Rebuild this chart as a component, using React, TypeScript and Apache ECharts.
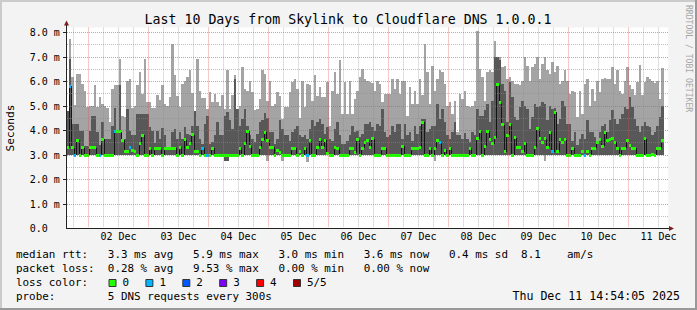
import React, { useEffect, useRef } from 'react';
import * as echarts from 'echarts';

const MONO = "'DejaVu Sans Mono', monospace";

const chartTitle = 'Last 10 Days from Skylink to Cloudflare DNS 1.0.0.1';
const yAxisTitle = 'Seconds';
const sideNote = 'RRDTOOL / TOBI OETIKER';
const stamp = 'Thu Dec 11 14:54:05 2025';
const monthName = 'Dec';

// hours counted from Dec 1 00:00; each value is the hour ending at FIRST_HOUR + index
const FIRST_HOUR = 16;
const SMOKE_FLOOR = 2.98; // ms, lowest ping of most hours
const X_MIN = 14.9;
const X_MAX = 255.9;
const Y_MAX = 8.2;

// top of the light smoke band (max ping, ms)
const smokeMax = [
  4.8, 7.74, 6.2, 5.05, 6.3, 6.3, 5.9, 5.6, 4.95, 5.0,
  5.0, 5.85, 4.95, 5.35, 5.1, 5.0, 4.9, 4.35, 5.7, 5.85,
  5.85, 6.9, 4.6, 4.55, 6.0, 6.1, 4.9, 5.0, 5.85, 6.4,
  5.5, 6.9, 5.15, 5.15, 4.9, 4.9, 5.45, 5.25, 5.84, 5.1,
  5.0, 5.36, 7.55, 6.25, 5.4, 4.95, 5.9, 6.0, 6.2, 6.45,
  5.55, 4.8, 6.93, 5.63, 5.32, 5.32, 4.88, 5.56, 5.15, 5.5,
  5.15, 5.02, 5.43, 4.88, 6.45, 4.88, 5.43, 6.25, 4.88, 5.02,
  6.6, 5.7, 5.63, 6.04, 5.56, 4.82, 4.88, 5.29, 6.45, 6.3,
  5.2, 6.04, 5.02, 5.1, 5.56, 5.42, 4.48, 4.95, 4.95, 5.56,
  5.97, 6.1, 5.7, 4.5, 6.04, 4.95, 5.9, 5.84, 5.22, 6.25,
  5.42, 5.77, 5.36, 5.36, 5.97, 4.2, 5.63, 6.38, 5.5, 6.86,
  4.68, 5.97, 4.68, 6.04, 4.68, 5.29, 5.63, 6.18, 6.52, 6.1,
  6.0, 5.97, 5.94, 5.63, 6.04, 5.9, 5.16, 5.5, 5.5, 5.5,
  6.1, 5.7, 6.1, 5.5, 6.0, 6.0, 4.61, 5.77, 5.09, 5.63,
  5.09, 6.1, 5.43, 7.54, 6.38, 5.09, 6.65, 5.63, 6.1, 6.45,
  6.38, 5.9, 5.02, 5.16, 4.68, 5.22, 3.95, 5.5, 5.29, 5.6,
  5.0, 4.95, 5.02, 5.22, 8.08, 6.52, 6.18, 5.22, 6.38, 6.45,
  6.38, 7.67, 7.0, 7.0, 6.59, 6.65, 6.11, 6.18, 6.04, 5.9,
  5.9, 5.84, 6.04, 7.0, 6.65, 6.04, 6.59, 6.72, 7.0, 6.1,
  6.72, 7.0, 6.45, 6.31, 6.79, 6.38, 6.65, 5.9, 6.0, 6.45,
  6.0, 5.5, 5.63, 5.56, 4.54, 5.63, 4.68, 5.9, 6.1, 5.02,
  5.7, 5.22, 6.0, 5.56, 6.1, 6.14, 6.1, 6.1, 6.59, 5.9,
  6.45, 5.63, 5.5, 6.0, 6.59, 5.84, 5.7, 5.43, 5.97, 6.68,
  5.43, 5.97, 6.18, 6.1, 6.04, 5.94, 6.0, 5.29, 6.55,
];

// top of the dark (inner) smoke band, ms
const smokeInner = [
  4.8, 6.93, 4.27, 4.27, 4.27, 3.96, 3.96, 3.35, 3.35, 3.96,
  4.6, 4.6, 3.95, 3.4, 4.35, 3.66, 3.66, 3.66, 4.2, 4.9,
  3.96, 5.84, 3.66, 3.66, 4.88, 4.0, 3.8, 3.8, 4.68, 4.68,
  4.68, 4.68, 4.68, 4.14, 3.96, 3.5, 3.96, 3.66, 4.1, 3.8,
  3.32, 3.32, 3.93, 4.07, 3.66, 3.93, 3.66, 4.14, 3.87, 3.8,
  4.2, 4.8, 4.2, 3.66, 3.46, 4.27, 4.61, 3.46, 3.52, 3.8,
  4.34, 3.8, 3.8, 4.61, 4.75, 4.41, 4.07, 6.11, 4.88, 4.2,
  4.48, 4.88, 4.2, 3.8, 3.66, 3.52, 3.87, 4.34, 4.41, 4.7,
  4.5, 3.93, 3.93, 3.46, 3.66, 4.41, 4.07, 3.8, 3.8, 3.59,
  3.93, 4.07, 4.2, 3.8, 3.73, 3.8, 3.66, 4.07, 4.41, 4.2,
  4.34, 4.48, 4.27, 3.87, 4.14, 3.66, 3.59, 4.07, 4.34, 3.8,
  3.46, 3.46, 3.59, 3.8, 4.2, 3.93, 4.0, 3.73, 3.87, 4.27,
  4.27, 4.34, 4.14, 4.0, 4.27, 4.2, 4.88, 3.93, 3.73, 3.8,
  4.2, 3.93, 4.27, 4.27, 3.66, 4.27, 3.8, 3.93, 3.59, 4.2,
  3.87, 4.2, 4.48, 4.48, 3.93, 4.07, 4.2, 4.2, 5.1, 4.48,
  4.88, 4.34, 3.8, 3.66, 3.93, 4.34, 3.8, 3.8, 3.66, 3.9,
  3.66, 3.52, 3.93, 3.8, 4.88, 4.61, 4.61, 4.82, 5.09, 4.34,
  5.22, 7.0, 7.0, 6.86, 5.9, 5.63, 4.34, 5.97, 5.36, 4.54,
  4.41, 4.95, 5.22, 5.02, 4.88, 4.07, 4.54, 5.09, 4.95, 5.02,
  5.16, 5.09, 4.41, 5.02, 4.88, 4.9, 4.27, 4.48, 5.22, 5.02,
  4.27, 4.27, 3.59, 3.93, 3.39, 3.66, 3.87, 3.66, 4.41, 3.93,
  3.93, 3.73, 3.59, 3.93, 4.2, 4.27, 3.93, 4.41, 4.82, 4.48,
  4.27, 4.48, 4.68, 4.95, 4.88, 5.36, 4.95, 4.48, 4.2, 3.93,
  4.2, 4.34, 4.2, 4.14, 3.8, 3.93, 4.2, 4.54, 5.02,
];

// median rtt, ms
const medianRtt = [
  3.3, 5.8, 3.3, 3.0, 3.6, 3.0, 3.3, 3.0, 3.0, 3.3,
  3.3, 3.3, 3.0, 3.0, 3.65, 3.0, 3.0, 3.0, 3.0, 3.95,
  3.95, 3.95, 3.6, 3.14, 3.14, 3.3, 3.2, 3.14, 3.0, 3.45,
  3.8, 3.0, 3.0, 3.25, 3.0, 3.25, 3.25, 3.25, 3.0, 3.25,
  3.28, 3.28, 3.28, 3.28, 3.0, 3.32, 3.0, 3.63, 3.32, 3.46,
  3.82, 3.14, 3.14, 3.0, 3.28, 3.0, 3.0, 3.0, 3.28, 3.0,
  3.0, 3.0, 3.0, 3.0, 3.0, 3.0, 3.0, 3.0, 3.0, 3.28,
  3.0, 3.46, 3.96, 3.36, 3.0, 3.0, 3.0, 3.32, 3.63, 3.93,
  3.6, 3.32, 3.32, 3.0, 3.18, 3.1, 3.0, 3.0, 3.0, 3.0,
  3.28, 3.28, 3.0, 3.14, 3.0, 3.28, 3.0, 3.59, 3.0, 3.0,
  3.32, 3.63, 3.32, 3.6, 3.05, 3.0, 3.0, 3.32, 3.28, 3.0,
  3.0, 3.0, 3.0, 3.28, 3.28, 3.1, 3.63, 3.0, 3.28, 3.5,
  3.6, 3.32, 3.66, 3.0, 3.0, 3.0, 3.28, 3.28, 3.0, 3.0,
  3.0, 3.0, 3.0, 3.0, 3.36, 3.0, 3.0, 3.0, 3.28, 3.28,
  3.28, 3.32, 4.34, 3.0, 3.0, 3.28, 3.0, 3.28, 3.6, 3.5,
  3.0, 3.2, 3.0, 3.28, 3.0, 3.0, 3.0, 3.0, 3.0, 3.0,
  3.0, 3.28, 3.0, 3.0, 3.66, 3.96, 3.0, 3.36, 3.96, 3.63,
  3.46, 3.7, 5.86, 5.13, 4.23, 3.14, 3.8, 4.25, 3.0, 3.7,
  3.32, 3.32, 3.14, 3.48, 3.0, 3.0, 3.0, 3.32, 4.07, 3.66,
  3.5, 3.66, 3.32, 3.93, 3.14, 4.75, 3.14, 3.63, 3.52, 3.63,
  3.0, 3.0, 3.28, 3.0, 3.0, 3.0, 3.14, 3.0, 3.14, 3.0,
  3.28, 3.28, 3.52, 3.63, 3.36, 3.93, 3.59, 3.63, 3.66, 3.52,
  3.28, 3.0, 3.28, 3.28, 3.59, 3.39, 3.28, 3.28, 3.0, 3.0,
  3.0, 3.66, 3.0, 3.0, 3.03, 3.0, 3.28, 3.28, 3.6,
];

// hours where 1 of 5 requests was lost
const lossOneHours = [17, 19, 29, 35, 41, 70, 72, 112, 165, 210, 223];
// hours whose lowest ping fell below the usual floor: [hour, ms]
const lightDips = [[96, 2.75], [102, 2.75], [112, 2.7], [163, 2.75], [207, 2.75]];
const darkDips = [[79, 2.75], [80, 2.75]];

const dayLabelHours = [36, 60, 84, 108, 132, 156, 180, 204, 228, 252];

const legendRtt: [number, string][] = [
  [0, 'median rtt:'], [14, '3.3 ms avg'], [27, '5.9 ms max'], [40, '3.0 ms min'],
  [53, '3.6 ms now'], [66, '0.4 ms sd'], [77, '8.1'], [84, 'am/s'],
];
const legendLoss: [number, string][] = [
  [0, 'packet loss:'], [14, '0.28 % avg'], [27, '9.53 % max'], [40, '0.00 % min'], [53, '0.00 % now'],
];
const legendProbe: [number, string][] = [[0, 'probe:'], [14, '5 DNS requests every 300s']];
const lossColors: [string, string][] = [
  ['0', '#26ff00'], ['1', '#00b8ff'], ['2', '#0059ff'], ['3', '#7e00ff'], ['4', '#ff0000'], ['5/5', '#a00000'],
];

// layout
const W = 697;
const H = 310;
const GL = 65.75;
const GT = 27.6;
const GW = 602.5;
const GH = 200.9;
const LIGHT = '#a4a4a4';
const DARK = '#585858';
const MAJOR = 'rgba(222,79,79,0.6)';
const MINOR = 'rgba(140,140,140,0.55)';
const AXIS = '#222222';
const ARROW = '#7f1e1e';
const LEG_X = 16;
const CW = 6.56;
const LEG_FS = 10.9;

function buildOption() {
  const smokeData = smokeMax.map((mx, i) => {
    const h = FIRST_HOUR + i;
    const dd = darkDips.find((d) => d[0] === h);
    const ld = lightDips.find((d) => d[0] === h);
    const darkLo = dd ? dd[1] : SMOKE_FLOOR;
    const lightLo = ld ? ld[1] : darkLo;
    return [h, lightLo, darkLo, smokeInner[i], mx];
  });
  const medianData = medianRtt.map((m, i) => {
    const h = FIRST_HOUR + i;
    return [h, m, lossOneHours.includes(h) ? 1 : 0];
  });
  const stepData: number[][] = [];
  for (let i = 1; i < medianRtt.length; i++) {
    if (Math.abs(medianRtt[i] - medianRtt[i - 1]) >= 0.2) {
      stepData.push([FIRST_HOUR + i, medianRtt[i - 1], medianRtt[i]]);
    }
  }
  const gridData: number[][] = [];
  for (let t = 18; t < X_MAX; t += 6) gridData.push([t, t % 24 === 0 ? 1 : 0, 1]);
  for (let k = 1; k <= 16; k++) gridData.push([k / 2, k % 2 === 0 ? 1 : 0, 0]);

  const graphic: any[] = [];
  const add = (el: any) => graphic.push({ z: 100, silent: true, ...el });
  // frame
  add({ type: 'rect', shape: { x: 0, y: 0, width: W, height: 2 }, style: { fill: '#cbcbcb' } });
  add({ type: 'rect', shape: { x: 0, y: 0, width: 2, height: H }, style: { fill: '#cbcbcb' } });
  add({ type: 'rect', shape: { x: 0, y: H - 2, width: W, height: 2 }, style: { fill: '#999999' } });
  add({ type: 'rect', shape: { x: W - 2, y: 0, width: 2, height: H }, style: { fill: '#999999' } });
  // title & side texts
  add({ type: 'text', x: 348, y: 19, style: { text: chartTitle, fontFamily: MONO, fontSize: 13.25, fill: '#000', align: 'center', verticalAlign: 'middle' } });
  add({ type: 'text', x: 10.5, y: 128, rotation: Math.PI / 2, style: { text: yAxisTitle, fontFamily: MONO, fontSize: 11.2, fill: '#000', align: 'center', verticalAlign: 'middle' } });
  add({ type: 'text', x: 688.5, y: 5, rotation: -Math.PI / 2, style: { text: sideNote, fontFamily: MONO, fontSize: 8.1, fill: '#a6a6a6', align: 'left', verticalAlign: 'middle' } });
  // axes with arrows
  const xAxisY = GT + GH;
  add({ type: 'line', shape: { x1: 66, y1: xAxisY, x2: 669, y2: xAxisY }, style: { stroke: AXIS, lineWidth: 1 } });
  add({ type: 'line', shape: { x1: 66.5, y1: xAxisY + 0.5, x2: 66.5, y2: 25 }, style: { stroke: AXIS, lineWidth: 1 } });
  add({ type: 'polygon', shape: { points: [[669, xAxisY - 2.5], [674, xAxisY], [669, xAxisY + 2.5]] }, style: { fill: ARROW } });
  add({ type: 'polygon', shape: { points: [[64, 25.5], [66.5, 20.5], [69, 25.5]] }, style: { fill: ARROW } });
  // legend
  const rowY = [254.3, 268.3, 282.3, 296];
  const addRow = (pieces: [number, string][], y: number) => {
    pieces.forEach(([col, text]) =>
      add({ type: 'text', x: LEG_X + col * CW, y, style: { text, fontFamily: MONO, fontSize: LEG_FS, fill: '#000', verticalAlign: 'middle' } })
    );
  };
  addRow(legendRtt, rowY[0]);
  addRow(legendLoss, rowY[1]);
  addRow([[0, 'loss color:']], rowY[2]);
  lossColors.forEach(([label, color], i) => {
    const bx = 108.5 + i * 36.9;
    add({ type: 'rect', shape: { x: bx + 0.5, y: 279.5, width: 7, height: 7 }, style: { fill: color, stroke: '#333', lineWidth: 1 } });
    add({ type: 'text', x: bx + 14, y: rowY[2], style: { text: label, fontFamily: MONO, fontSize: LEG_FS, fill: '#000', verticalAlign: 'middle' } });
  });
  addRow(legendProbe, rowY[3]);
  add({ type: 'text', x: 680, y: rowY[3], style: { text: stamp, fontFamily: MONO, fontSize: 11.6, fill: '#000', align: 'right', verticalAlign: 'middle' } });

  return {
    animation: false,
    backgroundColor: '#f3f3f3',
    grid: { left: GL, top: GT, width: GW, height: GH, show: true, backgroundColor: '#ffffff', borderWidth: 0 },
    xAxis: {
      type: 'value', min: X_MIN, max: X_MAX,
      axisLine: { show: false }, axisTick: { show: false }, splitLine: { show: false },
      axisLabel: {
        customValues: dayLabelHours,
        formatter: (v: number) => String(Math.floor(v / 24) + 1).padStart(2, '0') + ' ' + monthName,
        fontFamily: MONO, fontSize: 10, color: '#000', margin: 3,
      },
    },
    yAxis: {
      type: 'value', min: 0, max: Y_MAX, interval: 1,
      axisLine: { show: false }, axisTick: { show: false }, splitLine: { show: false },
      axisLabel: {
        formatter: (v: number) => {
          if (Math.abs(v - Math.round(v)) > 0.01) return '';
          return v === 0 ? '{z|0.0}' : v.toFixed(1) + ' m';
        },
        rich: { z: { fontFamily: MONO, fontSize: 10, color: '#000', padding: [0, 12, 0, 0] } },
        fontFamily: MONO, fontSize: 10, color: '#000', margin: 6,
      },
    },
    series: [
      {
        type: 'custom', name: 'smoke', z: 2, silent: true, data: smokeData,
        renderItem: (params: any, api: any) => {
          const h = api.value(0);
          const pl = api.coord([h - 1, api.value(1)]);
          const pr = api.coord([h, api.value(4)]);
          const x0 = Math.round(pl[0]);
          const x1 = Math.round(pr[0]);
          const yLo = Math.round(pl[1]);
          const yHi = Math.round(pr[1]);
          const dLo = Math.round(api.coord([h, api.value(2)])[1]);
          const dHi = Math.round(api.coord([h, api.value(3)])[1]);
          return {
            type: 'group',
            children: [
              { type: 'rect', shape: { x: x0, y: yHi, width: x1 - x0, height: yLo - yHi }, style: { fill: LIGHT } },
              { type: 'rect', shape: { x: x0, y: dHi, width: x1 - x0, height: dLo - dHi }, style: { fill: DARK } },
            ],
          };
        },
      },
      {
        type: 'custom', name: 'median steps', z: 3, silent: true, data: stepData,
        renderItem: (params: any, api: any) => {
          const h = api.value(0);
          const a = api.coord([h - 1, api.value(1)]);
          const b = api.coord([h - 1, api.value(2)]);
          const x = Math.round(a[0]) + 0.5;
          return { type: 'line', shape: { x1: x, y1: Math.round(a[1]), x2: x, y2: Math.round(b[1]) }, style: { stroke: '#151515', lineWidth: 1 } };
        },
      },
      {
        type: 'custom', name: 'median', z: 4, silent: true, data: medianData,
        renderItem: (params: any, api: any) => {
          const h = api.value(0);
          const a = api.coord([h - 1, api.value(1)]);
          const b = api.coord([h, api.value(1)]);
          const x0 = Math.round(a[0]);
          const x1 = Math.round(b[0]);
          const y = Math.round(a[1] - 1.5);
          return { type: 'rect', shape: { x: x0, y, width: x1 - x0, height: 3 }, style: { fill: lossColors[api.value(2)][1] } };
        },
      },
      {
        type: 'custom', name: 'grid', z: 5, silent: true, data: gridData,
        renderItem: (params: any, api: any) => {
          const v = api.value(0);
          const stroke = api.value(1) === 1 ? MAJOR : MINOR;
          if (api.value(2) === 1) {
            const a = api.coord([v, 0]);
            const b = api.coord([v, Y_MAX]);
            const x = Math.floor(a[0] + 0.001) + 0.5;
            return { type: 'line', shape: { x1: x, y1: b[1], x2: x, y2: a[1] - 1 }, style: { stroke, lineWidth: 1, lineDash: [1, 1] } };
          }
          const a = api.coord([X_MIN, v]);
          const b = api.coord([X_MAX, v]);
          const y = Math.floor(a[1] + 0.001) + 0.5;
          const children: any[] = [
            { type: 'line', shape: { x1: 67, y1: y, x2: b[0], y2: y }, style: { stroke, lineWidth: 1, lineDash: [1, 1] } },
          ];
          if (api.value(1) === 1) {
            children.push({ type: 'line', shape: { x1: 63, y1: y, x2: 66, y2: y }, style: { stroke: AXIS, lineWidth: 1 } });
          }
          return { type: 'group', children };
        },
      },
    ],
    graphic,
  };
}

export default function App() {
  const ref = useRef<HTMLDivElement>(null);
  useEffect(() => {
    const chart = echarts.init(ref.current!, undefined, { renderer: 'svg' });
    chart.setOption(buildOption() as any);
    return () => chart.dispose();
  }, []);
  return <div ref={ref} style={{ position: 'fixed', left: 0, top: 0, width: W, height: H }} />;
}
